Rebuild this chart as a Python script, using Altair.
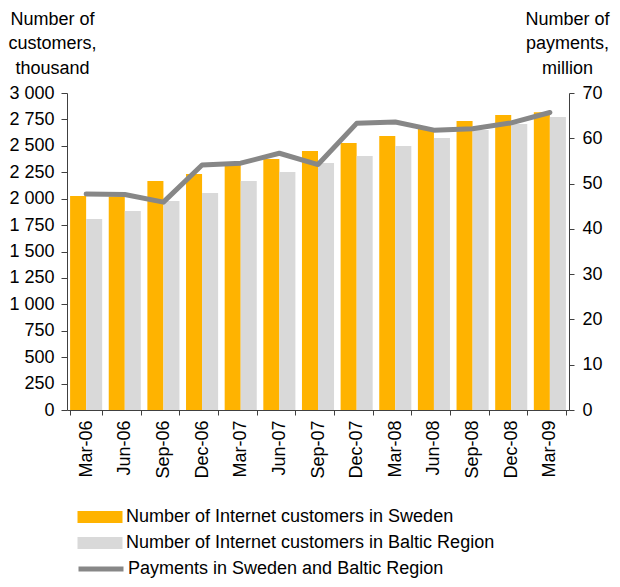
import altair as alt
import pandas as pd

periods = ["Mar-06", "Jun-06", "Sep-06", "Dec-06", "Mar-07", "Jun-07", "Sep-07",
           "Dec-07", "Mar-08", "Jun-08", "Sep-08", "Dec-08", "Mar-09"]
sweden = [2025, 2020, 2167, 2233, 2330, 2375, 2450, 2526, 2592, 2668, 2734, 2791, 2819]
baltic = [1807, 1883, 1977, 2053, 2167, 2252, 2337, 2403, 2498, 2573, 2649, 2706, 2772]
payments = [47.7, 47.6, 45.9, 54.1, 54.5, 56.7, 54.2, 63.3, 63.6, 61.8, 62.1, 63.4, 65.7]

s_name = "Number of Internet customers in Sweden"
b_name = "Number of Internet customers in Baltic Region"
p_name = "Payments in Sweden and Baltic Region"

bars_df = pd.DataFrame(
    [{"period": p, "series": s_name, "value": v} for p, v in zip(periods, sweden)]
    + [{"period": p, "series": b_name, "value": v} for p, v in zip(periods, baltic)]
)
line_df = pd.DataFrame({"period": periods, "payments": payments, "series": p_name})

FONT = "Liberation Sans"
AX = "#404040"

x_enc = alt.X(
    "period:N", sort=periods,
    scale=alt.Scale(paddingInner=0.17, paddingOuter=0.08),
    axis=alt.Axis(title=None, labelAngle=-90, tickBand="extent", labelPadding=5,
                  tickSize=5, labelFontSize=18, labelColor="black",
                  domainColor=AX, tickColor=AX),
)

bars = alt.Chart(bars_df).mark_bar().encode(
    x=x_enc,
    xOffset=alt.XOffset("series:N", sort=[s_name, b_name]),
    y=alt.Y("value:Q", scale=alt.Scale(domain=[0, 3000], nice=False),
            axis=alt.Axis(values=list(range(0, 3001, 250)),
                          labelExpr="replace(format(datum.value, ','), ',', ' ')",
                          title=["Number of", "customers,", "thousand"],
                          titleAngle=0, titleAlign="center", titleBaseline="top",
                          titleX=-15, titleY=-83, titleFontSize=18,
                          titleFontWeight="normal", titleLineHeight=24.5,
                          titleColor="black",
                          labelFontSize=18, labelColor="black", labelPadding=7,
                          tickSize=6, grid=False, domainColor=AX, tickColor=AX)),
    color=alt.Color("series:N",
                    scale=alt.Scale(domain=[s_name, b_name], range=["#FFB300", "#D9D9D9"]),
                    legend=alt.Legend(title=None, orient="none", legendX=9, legendY=415,
                                      direction="vertical", symbolType="M-1,-0.8H5V0.8H-1Z",
                                      symbolSize=225, symbolStrokeWidth=0,
                                      labelOffset=32, labelFontSize=18, labelColor="black",
                                      rowPadding=8, padding=0, labelLimit=500)),
)

line = alt.Chart(line_df).mark_line(strokeWidth=5, strokeCap="round", strokeJoin="round").encode(
    x=alt.X("period:N", sort=periods),
    y=alt.Y("payments:Q", scale=alt.Scale(domain=[0, 70], nice=False),
            axis=alt.Axis(orient="right", values=list(range(0, 71, 10)),
                          title=["Number of", "payments,", "million"],
                          titleAngle=0, titleAlign="center", titleBaseline="top",
                          titleX=-2, titleY=-83, titleFontSize=18,
                          titleFontWeight="normal", titleLineHeight=24.5,
                          titleColor="black",
                          labelFontSize=18, labelColor="black", labelPadding=8,
                          tickSize=5, grid=False, domainColor=AX, tickColor=AX)),
    stroke=alt.Stroke("series:N", scale=alt.Scale(domain=[p_name], range=["#878787"]),
                      legend=alt.Legend(title=None, orient="none", legendX=9, legendY=466,
                                        symbolType="M-1,0H5", symbolSize=225,
                                        symbolStrokeWidth=5, labelOffset=32,
                                        labelFontSize=18, labelColor="black",
                                        padding=0, labelLimit=500)),
)

chart = alt.layer(bars, line).resolve_scale(y="independent").properties(
    width=502, height=317,
    autosize=alt.AutoSizeParams(type="none"),
    padding={"left": 59, "top": 85, "right": 43, "bottom": 169},
).configure(font=FONT).configure_view(stroke=None)

chart.save("out.html", embed_options={"renderer": "svg", "actions": False})
